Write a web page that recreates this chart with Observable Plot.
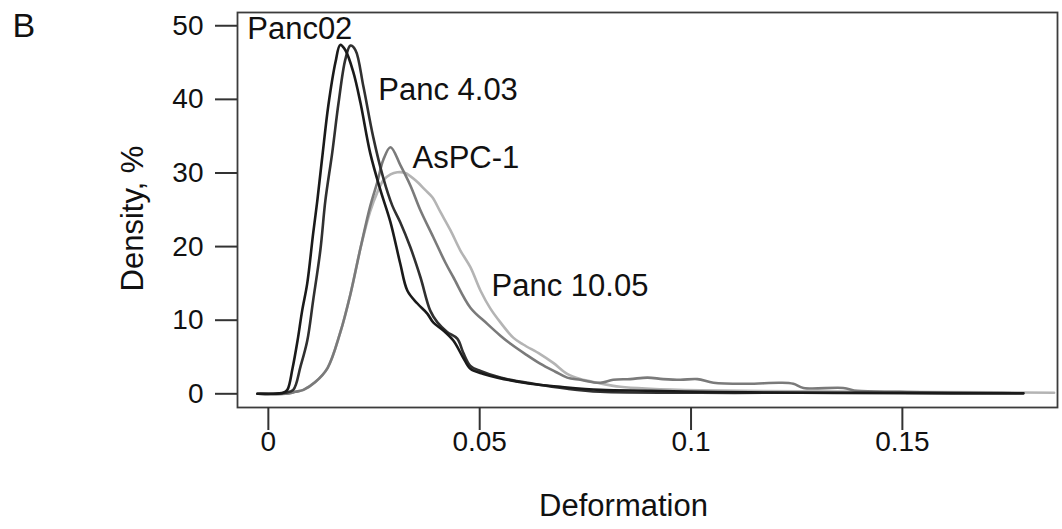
<!DOCTYPE html>
<html>
<head>
<meta charset="utf-8">
<script src="https://cdn.jsdelivr.net/npm/d3@7"></script>
<script src="https://cdn.jsdelivr.net/npm/@observablehq/plot@0.6"></script>
<style>
  html, body { margin: 0; padding: 0; background: #fff; }
</style>
</head>
<body>
<div id="chart"></div>
<script>
// ---- Data ----
const seriesNames = ["Panc 10.05", "AsPC-1", "Panc 4.03", "Panc02"];

const panc02X = [-0.0026, 0.0005, 0.0035, 0.0045, 0.0057, 0.0069, 0.0080, 0.0092, 0.0106, 0.0116, 0.0128, 0.0142, 0.0159, 0.0170, 0.0182, 0.0201, 0.0218, 0.0241, 0.0265, 0.0289, 0.0312, 0.0329, 0.0352, 0.0376, 0.0390, 0.0414, 0.0438, 0.0461, 0.0478, 0.0509, 0.0542, 0.0620, 0.0691, 0.0785, 0.0904, 0.1022, 0.1140, 0.1259, 0.1495, 0.1786];
const panc02Y = [0, 0, 0.14, 0.54, 3.4, 7.2, 11.3, 15.0, 21.8, 26.3, 32.4, 39.2, 45.1, 47.4, 46.7, 43.7, 39.5, 32.7, 27.7, 23.3, 17.7, 14.0, 12.3, 10.9, 9.7, 8.6, 7.2, 4.9, 3.4, 2.7, 2.2, 1.36, 0.95, 0.54, 0.41, 0.27, 0.2, 0.14, 0.14, 0.07];

const panc403X = [-0.0026, 0.0017, 0.0040, 0.0059, 0.0076, 0.0092, 0.0106, 0.0123, 0.0135, 0.0151, 0.0166, 0.0182, 0.0194, 0.0206, 0.0225, 0.0248, 0.0272, 0.0293, 0.0312, 0.0336, 0.0360, 0.0383, 0.0400, 0.0423, 0.0447, 0.0461, 0.0478, 0.0502, 0.0549, 0.0627, 0.0707, 0.0785, 0.1022, 0.1259, 0.1495, 0.1786];
const panc403Y = [0, 0, 0.14, 0.54, 3.7, 7.2, 12.7, 19.5, 26.3, 32.7, 39.5, 45.4, 47.3, 46.7, 41.7, 34.9, 29.3, 25.6, 23.3, 19.9, 15.8, 11.3, 9.7, 8.4, 7.5, 5.6, 3.8, 3.1, 2.2, 1.36, 0.68, 0.27, 0.14, 0.14, 0.07, 0.07];

const aspc1X = [-0.0019, 0.0040, 0.0064, 0.0083, 0.0111, 0.0140, 0.0170, 0.0194, 0.0218, 0.0241, 0.0258, 0.0272, 0.0289, 0.0312, 0.0336, 0.0360, 0.0390, 0.0419, 0.0438, 0.0478, 0.0518, 0.0549, 0.0573, 0.0608, 0.0643, 0.0679, 0.0707, 0.0738, 0.0785, 0.0816, 0.0856, 0.0897, 0.0934, 0.0975, 0.1015, 0.1053, 0.1133, 0.1211, 0.1242, 0.1266, 0.1360, 0.1393, 0.1495, 0.1613, 0.1786];
const aspc1Y = [0, 0, 0.27, 0.54, 1.6, 3.5, 8.3, 13.5, 19.8, 25.5, 28.8, 31.8, 33.5, 31.1, 28.3, 24.9, 21.3, 17.8, 15.8, 11.7, 9.5, 7.9, 6.8, 5.4, 4.1, 3.0, 2.2, 1.9, 1.5, 1.9, 2.0, 2.2, 2.0, 1.9, 2.0, 1.5, 1.36, 1.5, 1.36, 0.8, 0.8, 0.4, 0.27, 0.14, 0.07];

const panc1005X = [-0.0024, 0.0040, 0.0064, 0.0083, 0.0111, 0.0140, 0.0170, 0.0194, 0.0218, 0.0241, 0.0258, 0.0272, 0.0289, 0.0305, 0.0324, 0.0348, 0.0371, 0.0388, 0.0407, 0.0431, 0.0454, 0.0478, 0.0502, 0.0525, 0.0549, 0.0580, 0.0603, 0.0643, 0.0674, 0.0707, 0.0738, 0.0778, 0.0833, 0.0904, 0.1022, 0.1259, 0.1495, 0.1732, 0.1859];
const panc1005Y = [0, 0, 0.27, 0.54, 1.6, 3.5, 8.3, 13.5, 19.8, 24.8, 27.4, 29.0, 29.8, 30.1, 30.0, 29.0, 27.7, 26.7, 24.7, 22.2, 19.5, 17.2, 14.0, 11.6, 9.7, 7.6, 6.7, 5.4, 4.2, 2.7, 2.0, 1.5, 0.95, 0.68, 0.48, 0.34, 0.27, 0.2, 0.14];

const xTicks = [0, 0.05, 0.1, 0.15];
const yTicks = [0, 10, 20, 30, 40, 50];

const labelNames = ["Panc02", "Panc 4.03", "AsPC-1", "Panc 10.05"];
const labelX = [-0.0050, 0.0260, 0.0341, 0.0528];
const labelY = [49.6, 41.2, 32.0, 14.7];

// ---- Build table ----
const seriesData = {
  "Panc02": [panc02X, panc02Y],
  "Panc 4.03": [panc403X, panc403Y],
  "AsPC-1": [aspc1X, aspc1Y],
  "Panc 10.05": [panc1005X, panc1005Y]
};
const rows = seriesNames.flatMap(name => {
  const [xs, ys] = seriesData[name];
  return xs.map((x, i) => ({series: name, x, y: ys[i]}));
});
const labels = labelNames.map((name, i) => ({name, x: labelX[i], y: labelY[i]}));

const chart = Plot.plot({
  width: 1062,
  height: 529,
  marginLeft: 237,
  marginRight: 5,
  marginTop: 12,
  marginBottom: 122,
  x: {domain: [-0.0073, 0.1867]},
  y: {domain: [-1.86, 51.8]},
  color: {domain: seriesNames, range: ["#b4b4b4", "#7a7a7a", "#303030", "#1a1a1a"]},
  style: {fontFamily: "'Liberation Sans', Arial, sans-serif", color: "#111", background: "#fff", overflow: "visible"},
  marks: [
    Plot.frame({stroke: "#3c3c3c", strokeWidth: 1.8}),
    Plot.axisY(yTicks, {tickSize: 22, tickPadding: 12, fontSize: 28, label: null, stroke: "#333", strokeWidth: 2, fill: "#111"}),
    Plot.axisX(xTicks, {tickSize: 23, tickPadding: 1, fontSize: 28, label: null, stroke: "#333", strokeWidth: 2, fill: "#111", tickFormat: d => String(d)}),
    Plot.line(rows, {x: "x", y: "y", z: "series", stroke: "series", strokeWidth: 2.6, curve: "catmull-rom"}),
    Plot.text(labels, {x: "x", y: "y", text: "name", textAnchor: "start", lineAnchor: "middle", fontSize: 31, fill: "#111"}),
    Plot.text(["Density, %"], {frameAnchor: "left", dx: -104, dy: 8.5, rotate: -90, textAnchor: "middle", lineAnchor: "middle", fontSize: 31, fill: "#111"}),
    Plot.text(["Deformation"], {frameAnchor: "bottom", dx: -24, dy: 99, textAnchor: "middle", lineAnchor: "middle", fontSize: 31, fill: "#111"}),
    Plot.text(["B"], {frameAnchor: "top-left", dx: -225, dy: 14, textAnchor: "start", lineAnchor: "middle", fontSize: 34, fill: "#111"})
  ]
});
document.getElementById("chart").appendChild(chart);
</script>
</body>
</html>
